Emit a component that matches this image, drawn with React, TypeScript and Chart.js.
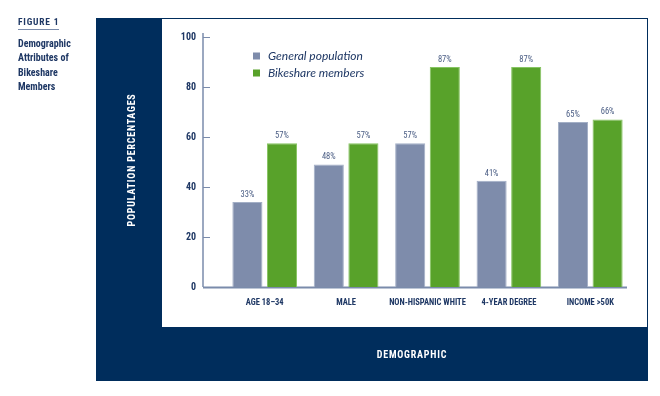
import React, { useEffect, useRef } from 'react';
import { Chart, registerables } from 'chart.js';

Chart.register(...registerables);

const CATEGORIES = ['AGE 18–34', 'MALE', 'NON-HISPANIC WHITE', '4-YEAR DEGREE', 'INCOME >50K'];
const SERIES_NAMES = ['General population', 'Bikeshare members'];
const GENERAL = [34, 49, 57.5, 42.5, 66];
const BIKESHARE = [57.5, 57.5, 88, 88, 67];
const GENERAL_LABELS = ['33%', '48%', '57%', '41%', '65%'];
const BIKESHARE_LABELS = ['57%', '57%', '87%', '87%', '66%'];
const Y_MIN = 0;
const Y_MAX = 100;
const Y_STEP = 20;

const NAVY = '#002d5c';
const TEXT_NAVY = '#1e3764';
const GRAY = '#7e8cab';
const GRAY_EDGE = '#a3afc6';
const GREEN = '#58a22a';
const GREEN_EDGE = '#86c462';
const AXIS = '#7a8bab';
const COND = '"Roboto Condensed", "DejaVu Sans", sans-serif';

function setFont(ctx: CanvasRenderingContext2D, f: string) {
  ctx.font = f;
  try {
    (ctx as any).fontStretch = 'condensed';
  } catch (e) {}
}

const framePlugin = {
  id: 'frame',
  beforeDraw(chart: any) {
    const ctx = chart.ctx as CanvasRenderingContext2D;
    ctx.save();
    ctx.fillStyle = '#ffffff';
    ctx.fillRect(0, 0, chart.width, chart.height);
    // navy panel
    ctx.fillStyle = NAVY;
    ctx.fillRect(96, 18, 552, 363);
    // white plot panel
    ctx.fillStyle = '#ffffff';
    ctx.fillRect(162, 19, 485, 308);

    // left caption
    ctx.fillStyle = TEXT_NAVY;
    ctx.textAlign = 'left';
    ctx.textBaseline = 'middle';
    setFont(ctx, `bold 9.5px ${COND}`);
    (ctx as any).letterSpacing = '0.8px';
    ctx.fillText('FIGURE 1', 18, 23);
    (ctx as any).letterSpacing = '0px';
    ctx.strokeStyle = '#7a8bab';
    ctx.lineWidth = 1;
    ctx.beginPath();
    ctx.moveTo(18, 29.5);
    ctx.lineTo(59, 29.5);
    ctx.stroke();
    setFont(ctx, `bold 10px ${COND}`);
    ['Demographic', 'Attributes of', 'Bikeshare', 'Members'].forEach((t, i) => {
      ctx.fillText(t, 18, 44 + i * 14.5);
    });

    // axis titles
    ctx.fillStyle = '#ffffff';
    setFont(ctx, `bold 10px ${COND}`);
    (ctx as any).letterSpacing = '0.8px';
    ctx.textAlign = 'center';
    ctx.fillText('DEMOGRAPHIC', 412, 355);
    ctx.translate(132, 160);
    ctx.rotate(-Math.PI / 2);
    ctx.fillText('POPULATION PERCENTAGES', 0, 0);
    ctx.restore();
  },
  beforeDatasetsDraw(chart: any) {
    const ctx = chart.ctx as CanvasRenderingContext2D;
    const y = chart.scales.y;
    const area = chart.chartArea;
    const axisX = area.left - 21;
    ctx.save();
    ctx.strokeStyle = AXIS;
    ctx.lineWidth = 1.5;
    ctx.beginPath();
    ctx.moveTo(axisX, y.getPixelForValue(Y_MAX) - 4);
    ctx.lineTo(axisX, y.getPixelForValue(Y_MIN));
    ctx.stroke();
    y.ticks.forEach((t: any) => {
      const py = Math.round(y.getPixelForValue(t.value)) + 0.5;
      ctx.lineWidth = 1;
      ctx.beginPath();
      ctx.moveTo(axisX, py);
      ctx.lineTo(axisX + 7, py);
      ctx.stroke();
    });
    ctx.lineWidth = 2;
    ctx.beginPath();
    ctx.moveTo(axisX, y.getPixelForValue(Y_MIN) + 0.5);
    ctx.lineTo(area.right - 4, y.getPixelForValue(Y_MIN) + 0.5);
    ctx.stroke();
    ctx.restore();
  },
  afterDatasetsDraw(chart: any) {
    const ctx = chart.ctx as CanvasRenderingContext2D;
    ctx.save();
    setFont(ctx, `8.5px ${COND}`);
    ctx.fillStyle = '#4a5d84';
    ctx.textAlign = 'center';
    ctx.textBaseline = 'bottom';
    const labelSets = [GENERAL_LABELS, BIKESHARE_LABELS];
    chart.data.datasets.forEach((ds: any, di: number) => {
      const meta = chart.getDatasetMeta(di);
      meta.data.forEach((bar: any, i: number) => {
        ctx.fillText(labelSets[di][i], bar.x, bar.y - 3);
      });
    });
    // legend
    ctx.textAlign = 'left';
    ctx.textBaseline = 'middle';
    ctx.font = 'italic 12px Lato, "Liberation Sans", sans-serif';
    chart.data.datasets.forEach((ds: any, di: number) => {
      const cy = 56 + di * 17;
      ctx.fillStyle = ds.backgroundColor;
      ctx.fillRect(253, cy - 3.5, 7, 7);
      ctx.fillStyle = TEXT_NAVY;
      ctx.fillText(ds.label, 268, cy);
    });
    ctx.restore();
  },
};

export default function App() {
  const ref = useRef<HTMLCanvasElement>(null);
  useEffect(() => {
    if (!ref.current) return;
    const chart = new Chart(ref.current, {
      type: 'bar',
      data: {
        labels: CATEGORIES,
        datasets: [
          {
            label: SERIES_NAMES[0],
            data: GENERAL,
            backgroundColor: GRAY,
            borderColor: GRAY_EDGE,
            borderWidth: { top: 1, left: 1, right: 1, bottom: 0 },
            borderSkipped: 'bottom',
          },
          {
            label: SERIES_NAMES[1],
            data: BIKESHARE,
            backgroundColor: GREEN,
            borderColor: GREEN_EDGE,
            borderWidth: { top: 1, left: 1, right: 1, bottom: 0 },
            borderSkipped: 'bottom',
          },
        ],
      },
      options: {
        responsive: false,
        animation: false,
        devicePixelRatio: 1,
        datasets: { bar: { barPercentage: 0.87, categoryPercentage: 0.85 } },
        layout: { padding: { left: 180, right: 29, top: 37, bottom: 86 } },
        plugins: { legend: { display: false }, tooltip: { enabled: false } },
        scales: {
          x: {
            grid: { display: false, drawTicks: false },
            border: { display: false },
            afterFit: (s: any) => {
              s.height = 23;
            },
            ticks: {
              padding: 11,
              maxRotation: 0,
              autoSkip: false,
              color: TEXT_NAVY,
              font: { family: COND, size: 8.5, weight: 'bold condensed' as any },
            },
          },
          y: {
            min: Y_MIN,
            max: Y_MAX,
            grid: { display: false, drawTicks: false },
            border: { display: false },
            afterFit: (s: any) => {
              s.width = 44;
            },
            ticks: {
              stepSize: Y_STEP,
              padding: 28,
              color: TEXT_NAVY,
              font: { family: COND, size: 10, weight: 'bold condensed' as any },
            },
          },
        },
      },
      plugins: [framePlugin],
    });
    return () => chart.destroy();
  }, []);
  return (
    <div style={{ position: 'absolute', left: 0, top: 0, width: 660, height: 396 }}>
      <canvas ref={ref} width={660} height={396} />
    </div>
  );
}
